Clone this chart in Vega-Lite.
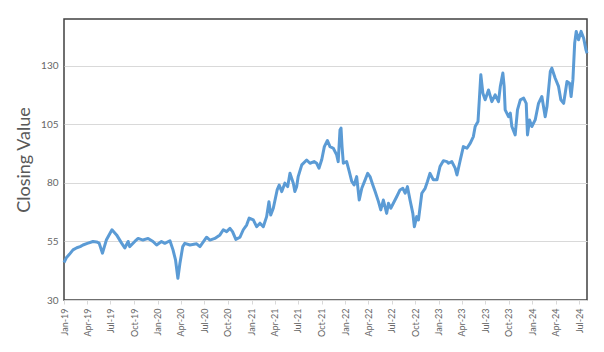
{
  "$schema": "https://vega.github.io/schema/vega-lite/v6.json",
  "width": 523,
  "height": 281,
  "autosize": {"type": "none"},
  "padding": {"left": 64, "top": 19, "right": 17, "bottom": 52},
  "background": "white",
  "config": {
    "view": {"stroke": "#404040", "strokeWidth": 1.5},
    "font": "Lato"
  },
  "data": {"values": [
    {"date": "2019-01-01", "value": 46},
    {"date": "2019-01-10", "value": 48},
    {"date": "2019-01-22", "value": 49.5},
    {"date": "2019-02-05", "value": 51.4},
    {"date": "2019-02-20", "value": 52.3},
    {"date": "2019-03-05", "value": 52.8},
    {"date": "2019-03-16", "value": 53.5},
    {"date": "2019-04-02", "value": 54.2},
    {"date": "2019-04-24", "value": 55},
    {"date": "2019-05-08", "value": 54.8},
    {"date": "2019-05-18", "value": 54.3},
    {"date": "2019-05-31", "value": 50},
    {"date": "2019-06-15", "value": 55.6},
    {"date": "2019-07-07", "value": 60},
    {"date": "2019-07-25", "value": 57.8},
    {"date": "2019-08-13", "value": 54.4},
    {"date": "2019-08-26", "value": 52.2},
    {"date": "2019-09-08", "value": 55},
    {"date": "2019-09-14", "value": 52.8},
    {"date": "2019-10-04", "value": 55},
    {"date": "2019-10-17", "value": 56.3},
    {"date": "2019-11-05", "value": 55.6},
    {"date": "2019-11-25", "value": 56.3},
    {"date": "2019-12-14", "value": 55},
    {"date": "2019-12-28", "value": 53.5},
    {"date": "2020-01-16", "value": 55},
    {"date": "2020-01-29", "value": 54.2},
    {"date": "2020-02-18", "value": 55.3},
    {"date": "2020-03-01", "value": 51.4},
    {"date": "2020-03-11", "value": 47},
    {"date": "2020-03-20", "value": 39.3},
    {"date": "2020-03-28", "value": 45.7},
    {"date": "2020-04-08", "value": 52.8},
    {"date": "2020-04-16", "value": 54.2},
    {"date": "2020-05-06", "value": 53.5},
    {"date": "2020-06-01", "value": 54},
    {"date": "2020-06-14", "value": 52.8},
    {"date": "2020-07-10", "value": 56.8},
    {"date": "2020-07-23", "value": 55.6},
    {"date": "2020-08-11", "value": 56.3},
    {"date": "2020-08-31", "value": 57.8},
    {"date": "2020-09-13", "value": 60},
    {"date": "2020-09-26", "value": 59.2},
    {"date": "2020-10-09", "value": 60.6},
    {"date": "2020-10-19", "value": 59.2},
    {"date": "2020-11-01", "value": 55.9},
    {"date": "2020-11-17", "value": 56.8},
    {"date": "2020-11-30", "value": 60},
    {"date": "2020-12-13", "value": 62},
    {"date": "2020-12-23", "value": 65},
    {"date": "2021-01-08", "value": 64.2},
    {"date": "2021-01-21", "value": 61.3},
    {"date": "2021-02-03", "value": 62.8},
    {"date": "2021-02-16", "value": 61.3},
    {"date": "2021-03-01", "value": 65.6},
    {"date": "2021-03-10", "value": 72},
    {"date": "2021-03-17", "value": 66.3},
    {"date": "2021-03-27", "value": 69.2},
    {"date": "2021-04-11", "value": 77},
    {"date": "2021-04-19", "value": 79.1},
    {"date": "2021-04-29", "value": 76.3},
    {"date": "2021-05-11", "value": 79.9},
    {"date": "2021-05-22", "value": 78.4},
    {"date": "2021-05-31", "value": 84.1},
    {"date": "2021-06-13", "value": 79.9},
    {"date": "2021-06-19", "value": 76.3},
    {"date": "2021-06-26", "value": 78.4},
    {"date": "2021-07-02", "value": 82.7},
    {"date": "2021-07-16", "value": 87.7},
    {"date": "2021-08-04", "value": 89.8},
    {"date": "2021-08-17", "value": 88.4},
    {"date": "2021-09-02", "value": 89.1},
    {"date": "2021-09-12", "value": 88.4},
    {"date": "2021-09-21", "value": 86.3},
    {"date": "2021-10-02", "value": 90},
    {"date": "2021-10-12", "value": 95.5},
    {"date": "2021-10-24", "value": 98.1},
    {"date": "2021-11-03", "value": 95.5},
    {"date": "2021-11-16", "value": 94.8},
    {"date": "2021-11-29", "value": 92},
    {"date": "2021-12-05", "value": 89.1},
    {"date": "2021-12-12", "value": 102.6},
    {"date": "2021-12-16", "value": 103.4},
    {"date": "2021-12-20", "value": 95.5},
    {"date": "2021-12-25", "value": 88.4},
    {"date": "2022-01-07", "value": 89.1},
    {"date": "2022-01-17", "value": 84.9},
    {"date": "2022-01-27", "value": 80.6},
    {"date": "2022-02-05", "value": 79.1},
    {"date": "2022-02-15", "value": 82.7},
    {"date": "2022-02-25", "value": 72.7},
    {"date": "2022-03-07", "value": 77.7},
    {"date": "2022-03-20", "value": 81.3},
    {"date": "2022-03-30", "value": 84.1},
    {"date": "2022-04-08", "value": 82.7},
    {"date": "2022-04-19", "value": 79.1},
    {"date": "2022-04-28", "value": 76.3},
    {"date": "2022-05-11", "value": 72},
    {"date": "2022-05-20", "value": 68.5},
    {"date": "2022-05-30", "value": 72.7},
    {"date": "2022-06-12", "value": 67},
    {"date": "2022-06-19", "value": 71.3},
    {"date": "2022-06-28", "value": 69.2},
    {"date": "2022-07-08", "value": 71.3},
    {"date": "2022-07-21", "value": 74.1},
    {"date": "2022-08-03", "value": 77},
    {"date": "2022-08-14", "value": 77.7},
    {"date": "2022-08-23", "value": 75.6},
    {"date": "2022-09-01", "value": 78.4},
    {"date": "2022-09-11", "value": 72.7},
    {"date": "2022-09-22", "value": 67},
    {"date": "2022-09-28", "value": 61.3},
    {"date": "2022-10-07", "value": 65.6},
    {"date": "2022-10-14", "value": 64.2},
    {"date": "2022-10-27", "value": 75.6},
    {"date": "2022-11-09", "value": 77.7},
    {"date": "2022-11-18", "value": 80.6},
    {"date": "2022-11-28", "value": 84.1},
    {"date": "2022-12-11", "value": 81.3},
    {"date": "2022-12-25", "value": 81.3},
    {"date": "2023-01-06", "value": 87},
    {"date": "2023-01-19", "value": 89.5},
    {"date": "2023-02-02", "value": 89.1},
    {"date": "2023-02-08", "value": 88.4},
    {"date": "2023-02-21", "value": 89.1},
    {"date": "2023-03-06", "value": 86.3},
    {"date": "2023-03-13", "value": 83.4},
    {"date": "2023-03-26", "value": 89.8},
    {"date": "2023-04-07", "value": 95.5},
    {"date": "2023-04-21", "value": 94.8},
    {"date": "2023-05-04", "value": 97},
    {"date": "2023-05-16", "value": 99.8},
    {"date": "2023-05-23", "value": 104.1},
    {"date": "2023-06-03", "value": 106.2},
    {"date": "2023-06-09", "value": 116.9},
    {"date": "2023-06-14", "value": 126.2},
    {"date": "2023-06-22", "value": 118.3},
    {"date": "2023-07-01", "value": 115.5},
    {"date": "2023-07-14", "value": 119.7},
    {"date": "2023-07-27", "value": 114.7},
    {"date": "2023-08-09", "value": 117.6},
    {"date": "2023-08-22", "value": 114.7},
    {"date": "2023-08-29", "value": 121.2},
    {"date": "2023-09-08", "value": 126.9},
    {"date": "2023-09-13", "value": 121.2},
    {"date": "2023-09-17", "value": 111.2},
    {"date": "2023-09-30", "value": 108.3},
    {"date": "2023-10-07", "value": 109.8},
    {"date": "2023-10-13", "value": 104.1},
    {"date": "2023-10-26", "value": 100.5},
    {"date": "2023-11-04", "value": 111.2},
    {"date": "2023-11-15", "value": 115.5},
    {"date": "2023-11-28", "value": 116.2},
    {"date": "2023-12-08", "value": 114},
    {"date": "2023-12-13", "value": 100.5},
    {"date": "2023-12-21", "value": 106.9},
    {"date": "2023-12-30", "value": 104.1},
    {"date": "2024-01-12", "value": 106.9},
    {"date": "2024-01-25", "value": 114},
    {"date": "2024-02-07", "value": 116.9},
    {"date": "2024-02-20", "value": 108.3},
    {"date": "2024-02-27", "value": 112.6},
    {"date": "2024-03-11", "value": 127.6},
    {"date": "2024-03-17", "value": 129},
    {"date": "2024-03-30", "value": 124.7},
    {"date": "2024-04-12", "value": 121.2},
    {"date": "2024-04-21", "value": 115.5},
    {"date": "2024-05-02", "value": 114},
    {"date": "2024-05-15", "value": 123.3},
    {"date": "2024-05-25", "value": 122.6},
    {"date": "2024-05-31", "value": 116.9},
    {"date": "2024-06-07", "value": 124},
    {"date": "2024-06-14", "value": 139.7},
    {"date": "2024-06-20", "value": 144.7},
    {"date": "2024-06-29", "value": 141.1},
    {"date": "2024-07-09", "value": 144.7},
    {"date": "2024-07-19", "value": 141.8},
    {"date": "2024-07-28", "value": 136.8},
    {"date": "2024-08-01", "value": 135.4}
  ]},
  "mark": {"type": "line", "color": "#5B9BD5", "strokeWidth": 3, "strokeJoin": "round"},
  "encoding": {
    "x": {
      "field": "date",
      "type": "temporal",
      "scale": {"domain": ["2019-01-01", "2024-08-01"], "nice": false},
      "axis": {
        "title": null,
        "format": "%b-%y",
        "tickCount": {"interval": "month", "step": 3},
        "labelAngle": -90,
        "labelFontSize": 9,
        "labelColor": "#666666",
        "labelPadding": 4,
        "grid": false,
        "domainColor": "#d9d9d9",
        "tickColor": "#d9d9d9",
        "tickSize": 4
      }
    },
    "y": {
      "field": "value",
      "type": "quantitative",
      "scale": {"domain": [30, 150], "nice": false},
      "axis": {
        "title": "Closing Value",
        "titleFontSize": 18,
        "titleFontWeight": "normal",
        "titleColor": "#595959",
        "titlePadding": 7,
        "values": [30, 55, 80, 105, 130],
        "labelFontSize": 10,
        "labelColor": "#666666",
        "labelPadding": 6,
        "ticks": false,
        "domain": false,
        "gridColor": "#d9d9d9",
        "gridWidth": 1
      }
    }
  }
}
